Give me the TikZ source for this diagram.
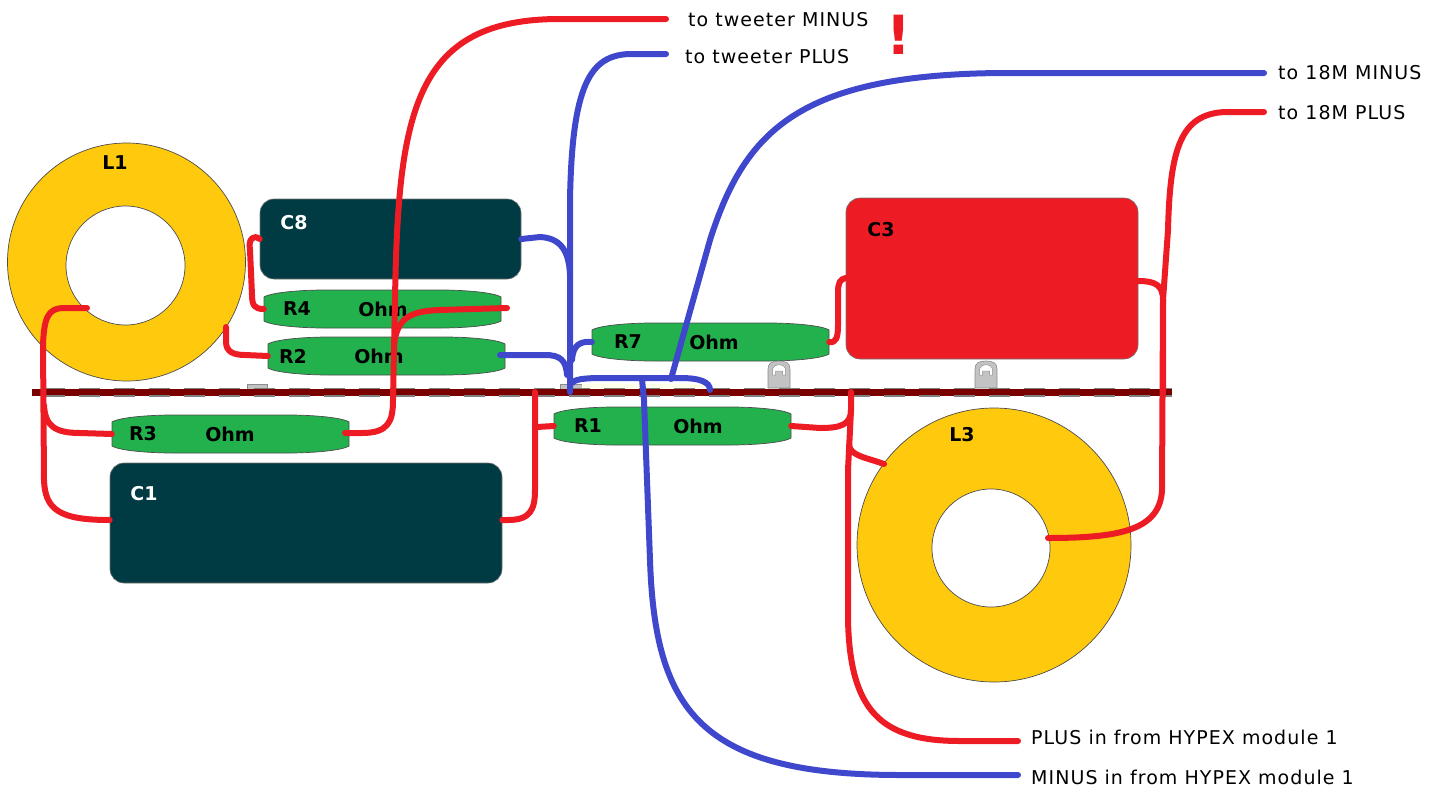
\documentclass[tikz,border=0pt]{standalone}
\usepackage{fontspec}
\setmainfont{DejaVu Sans}
\newfontfamily\leadfont[LetterSpace=5.5]{DejaVu Sans}
\definecolor{wred}{HTML}{ED1C24}
\definecolor{wblue}{HTML}{3F48CC}
\definecolor{ygold}{HTML}{FFC90E}
\definecolor{cteal}{HTML}{003A42}
\definecolor{rgreen}{HTML}{22B14C}
\definecolor{barred}{HTML}{7A0000}
\definecolor{lockgray}{HTML}{C3C3C3}
\tikzset{
  redwire/.style={draw=wred,line width=6pt,line cap=round,line join=round},
  bluewire/.style={draw=wblue,line width=6pt,line cap=round,line join=round},
  torus/.style={circle,draw=black!70,line width=.7pt,fill=ygold,inner sep=0pt},
  torushole/.style={circle,draw=black!70,line width=.7pt,fill=white,inner sep=0pt},
  capbox/.style={rectangle,rounded corners=14pt,draw=black!55,line width=.6pt,inner sep=0pt},
  partlabel/.style={font=\fontsize{19}{20}\selectfont\bfseries,inner sep=0pt},
  resbody/.style={fill=rgreen,draw=black!70,line width=.7pt},
  lead/.style={font=\leadfont\fontsize{19}{20}\selectfont,anchor=west,inner ysep=0pt},
  lockbody/.style={fill=lockgray,draw=black!45,line width=.6pt},
}
\newcommand{\resistor}[6]{% name, x, y, R label, R offset, Ohm offset
  \path[resbody] (#2,{#3+7}) .. controls ({#2+8},{#3+2}) and ({#2+40},#3) .. ({#2+60},#3)
    -- ({#2+177},#3) .. controls ({#2+197},#3) and ({#2+229},{#3+2}) .. ({#2+237},{#3+7})
    -- ({#2+237},{#3+31}) .. controls ({#2+229},{#3+36}) and ({#2+197},{#3+38}) .. ({#2+177},{#3+38})
    -- ({#2+60},{#3+38}) .. controls ({#2+40},{#3+38}) and ({#2+8},{#3+36}) .. (#2,{#3+31}) -- cycle;
  \node[minimum width=237pt,minimum height=38pt,inner sep=0pt] (#1) at ({#2+118.5},{#3+19}) {};
  \node[partlabel] (#1lab) at ({#2+#5},{#3+19}) {#4};
  \node[partlabel] (#1ohm) at ({#2+#6},{#3+19}) {Ohm};
}
\newcommand{\lockpart}[2]{% centre x, bottom y
  \path[lockbody] ({#1-11},#2) -- ({#1-11},{#2-19}) .. controls ({#1-11},{#2-25}) and ({#1-7},{#2-27}) .. (#1,{#2-27})
    .. controls ({#1+7},{#2-27}) and ({#1+11},{#2-25}) .. ({#1+11},{#2-19}) -- ({#1+11},#2) -- cycle;
  \path[fill=white,draw=black!45,line width=.5pt] ({#1-6.5},{#2-13}) -- ({#1-6.5},{#2-18}) .. controls ({#1-6.5},{#2-25}) and ({#1+6.5},{#2-25}) .. ({#1+6.5},{#2-18}) -- ({#1+6.5},{#2-13}) -- ({#1+3.5},{#2-13}) -- ({#1+3.5},{#2-17}) -- ({#1-3.5},{#2-17}) -- ({#1-3.5},{#2-13}) -- cycle;
}
\begin{document}
\begin{tikzpicture}[x=1pt,y=-1pt]
\useasboundingbox (0,0) rectangle (1442,787);
% toroids
\node[torus,minimum size=238pt] (l1) at (126.5,262) {};
\node[torushole,minimum size=119pt] (l1h) at (125.5,265.5) {};
\node[partlabel] (l1lab) at (115,163) {L1};
\node[torus,minimum size=274pt] (l3) at (994,545) {};
\node[torushole,minimum size=118pt] (l3h) at (991,548) {};
\node[partlabel] (l3lab) at (962,435) {L3};
% capacitors
\node[capbox,fill=cteal,minimum width=261pt,minimum height=80pt] (c8) at (390.5,239) {};
\node[partlabel,text=white] (c8lab) at (294,223) {C8};
\node[capbox,fill=wred,minimum width=292pt,minimum height=161pt] (c3) at (992,278.5) {};
\node[partlabel] (c3lab) at (881,230) {C3};
\node[capbox,fill=cteal,minimum width=392pt,minimum height=120pt] (c1) at (306,523) {};
\node[partlabel,text=white] (c1lab) at (144,494) {C1};
% resistors
\resistor{r4}{264}{290}{R4}{33}{119}
\resistor{r2}{268}{337}{R2}{25}{111}
\resistor{r3}{112}{415}{R3}{31}{118}
\resistor{r1}{554}{407}{R1}{34}{144}
\resistor{r7}{592}{323}{R7}{36}{122}
% small grey hardware
\lockpart{779}{388}
\lockpart{986}{388}
\path[lockbody] (247,384) rectangle (267,389);
\path[lockbody] (560,384) rectangle (582,389);
\path[fill=yellow!10] (582,384) rectangle (705,388);
% bar
\draw[draw=barred,line width=7pt] (32,392) -- (1172,392);
\draw[draw=gray,line width=1.3pt,dash pattern=on 21pt off 14pt] (44,388.3) -- (1172,388.3);
\draw[draw=gray,line width=1.3pt,dash pattern=on 21pt off 14pt] (44,396) -- (1172,396);
% leads
\node[lead,inner xsep=22pt] (tm) at (666,20) {to tweeter MINUS};
\node[lead,inner xsep=19pt] (tp) at (666,57) {to tweeter PLUS};
\node[lead,inner xsep=14pt] (mm) at (1264,73) {to 18M MINUS};
\node[lead,inner xsep=14pt] (mp) at (1264,113) {to 18M PLUS};
\node[lead,inner xsep=13pt] (hp) at (1018,737) {PLUS in from HYPEX module 1};
\node[lead,inner xsep=13pt] (hm) at (1018,777) {MINUS in from HYPEX module 1};
\node[font=\fontsize{54}{54}\selectfont\bfseries,text=wred,inner sep=0pt] (bang) at (899,35) {!};
% junctions
\coordinate (ja) at (570,392);
\coordinate (jb) at (535,392);
\coordinate (jc) at (851,392);
\coordinate (jd) at (710,390);
\coordinate (je) at (1163,392);
\coordinate (l1in) at (87,308);
\coordinate (l1out) at (226,327);
\coordinate (l3in) at (1048,538);
\coordinate (l3out) at (884,464);
\coordinate (r4e) at (507,308);
\coordinate (r2e) at (500,355);
\coordinate (r3e) at (345,433);
\coordinate (arcl) at (572,383);
\coordinate (arcm) at (642,379);
\coordinate (arcr) at (671,379);
% red wires
\draw[redwire] (r3e) -- (362,433) .. controls (388,433) and (393,422) .. (393,400)
  -- (395,300) .. controls (398,110) and (415,19) .. (560,19) -- (tm.west |- 0,19);
\draw[redwire] (r4e) -- (440,310) .. controls (410,311) and (397,318) .. (394,345);
\draw[redwire] (c8.west) -- (256,237) .. controls (250,238) and (249,241) .. (250,250)
  -- (252,295) .. controls (252,306) and (255,309) .. (r4.west);
\draw[redwire] (l1out) -- (226,342) .. controls (226,352) and (234,355) .. (245,355) -- (r2.west);
\draw[redwire] (l1in) -- (62,308) .. controls (48,309) and (44,318) .. (43,345)
  -- (44,480) .. controls (45,510) and (60,520) .. (c1.west |- 0,520);
\draw[redwire] (44,405) .. controls (45,426) and (55,433) .. (80,433) -- (r3.west);
\draw[redwire] (c1.east |- 0,520) -- (508,520) .. controls (530,520) and (535,510) .. (535,490) -- (jb);
\draw[redwire] (537,427) -- (r1.west);
\draw[redwire] (r1.east) -- (820,428) .. controls (840,428) and (851,425) .. (851,410) -- (jc);
\draw[redwire] (851,410) -- (848,470) -- (848,620) .. controls (850,710) and (880,741) .. (960,741) -- (hp.west |- 0,741);
\draw[redwire] (849,445) .. controls (850,456) and (868,458) .. (l3out);
\draw[redwire] (r7.east) .. controls (836,343) and (838,338) .. (838,325) -- (838,292) .. controls (838,283) and (840,279) .. (c3.west |- 0,278);
\draw[redwire] (c3.east |- 0,281) .. controls (1155,281) and (1163,285) .. (1163,300) -- (je);
\draw[redwire] (mp.west |- 0,112) -- (1225,112) .. controls (1180,114) and (1170,150) .. (1168,230)
  -- (1163,300) -- (1162,490) .. controls (1160,530) and (1120,538) .. (l3in);
% blue wires
\draw[bluewire] (tp.west |- 0,54) -- (630,54) .. controls (590,55) and (572,85) .. (570,200) -- (ja);
\draw[bluewire] (c8.east) -- (540,237) .. controls (560,238) and (569,250) .. (570,275);
\draw[bluewire] (r2e) -- (545,355) .. controls (560,355) and (566,360) .. (567,375);
\draw[bluewire] (r7.west) .. controls (580,341) and (573,345) .. (572,360);
\draw[bluewire] (arcl) .. controls (576,378) and (590,378) .. (610,378) -- (680,378)
  .. controls (700,378) and (710,382) .. (jd);
\draw[bluewire] (mm.west) -- (1000,73) .. controls (800,75) and (745,130) .. (710,240) -- (arcr);
\draw[bluewire] (hm.west |- 0,775) -- (900,775) .. controls (700,775) and (655,710) .. (650,560) -- (644,400) -- (arcm);
\end{tikzpicture}
\end{document}
